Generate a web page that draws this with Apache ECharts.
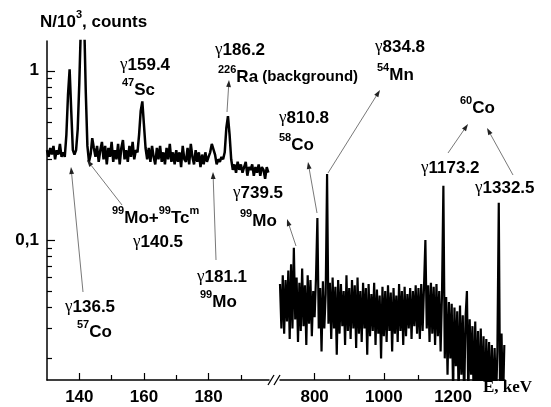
<!DOCTYPE html>
<html>
<head>
<meta charset="utf-8">
<script src="https://cdn.jsdelivr.net/npm/echarts@6/dist/echarts.min.js"></script>
<style>
  html, body { margin: 0; padding: 0; background: #fff; }
  #chart { width: 551px; height: 407px; }
</style>
</head>
<body>
<div id="chart"></div>
<script>
// low-energy part, 130..198.5 keV, step 0.5 keV
const leftStart = 130;
const leftStep = 0.5;
const leftCounts = [
  0.34, 0.31, 0.35, 0.32, 0.36, 0.30, 0.34, 0.32, 0.37, 0.31,
  0.33, 0.31, 0.42, 0.72, 1.02, 0.58, 0.34, 0.32, 0.34, 0.45,
  0.85, 1.90, 3.20, 2.00, 0.75, 0.36, 0.29, 0.32, 0.40, 0.35,
  0.31, 0.36, 0.29, 0.34, 0.38, 0.30, 0.36, 0.28, 0.35, 0.31,
  0.38, 0.29, 0.34, 0.30, 0.37, 0.28, 0.35, 0.39, 0.30, 0.34,
  0.29, 0.36, 0.31, 0.38, 0.30, 0.34, 0.33, 0.42, 0.58, 0.66,
  0.48, 0.35, 0.30, 0.35, 0.29, 0.36, 0.31, 0.28, 0.35, 0.30,
  0.36, 0.29, 0.33, 0.28, 0.35, 0.30, 0.37, 0.29, 0.33, 0.28,
  0.34, 0.29, 0.33, 0.27, 0.36, 0.30, 0.29, 0.35, 0.28, 0.37,
  0.31, 0.28, 0.34, 0.29, 0.33, 0.27, 0.32, 0.28, 0.33, 0.29,
  0.31, 0.33, 0.37, 0.38, 0.32, 0.28, 0.30, 0.29, 0.31, 0.30,
  0.33, 0.46, 0.54, 0.42, 0.30, 0.26, 0.28, 0.25, 0.29, 0.26,
  0.28, 0.25, 0.27, 0.29, 0.24, 0.27, 0.26, 0.28, 0.24, 0.27,
  0.25, 0.28, 0.24, 0.27, 0.26, 0.23, 0.27, 0.25
];

// high-energy part, 700..1348 keV, step 4 keV
const rightStart = 700;
const rightStep = 4;
const rightCounts = [
  0.055, 0.030, 0.062, 0.028, 0.058, 0.033, 0.066, 0.026, 0.072, 0.030,
  0.090, 0.034, 0.060, 0.025, 0.056, 0.029, 0.068, 0.031, 0.054, 0.024,
  0.062, 0.032, 0.058, 0.027, 0.050, 0.035, 0.060, 0.135, 0.030, 0.052,
  0.022, 0.057, 0.030, 0.048, 0.246, 0.032, 0.056, 0.026, 0.060, 0.030,
  0.053, 0.021, 0.058, 0.028, 0.055, 0.031, 0.050, 0.024, 0.062, 0.029,
  0.052, 0.026, 0.058, 0.030, 0.054, 0.023, 0.060, 0.028, 0.050, 0.025,
  0.056, 0.030, 0.052, 0.021, 0.055, 0.027, 0.048, 0.029, 0.056, 0.024,
  0.051, 0.028, 0.047, 0.020, 0.053, 0.027, 0.050, 0.025, 0.054, 0.029,
  0.049, 0.022, 0.052, 0.028, 0.047, 0.025, 0.055, 0.029, 0.050, 0.024,
  0.053, 0.027, 0.048, 0.030, 0.052, 0.026, 0.050, 0.031, 0.054, 0.028,
  0.052, 0.026, 0.055, 0.029, 0.053, 0.100, 0.030, 0.054, 0.025, 0.056,
  0.028, 0.053, 0.024, 0.055, 0.027, 0.050, 0.022, 0.048, 0.209, 0.020,
  0.046, 0.016, 0.043, 0.020, 0.042, 0.013, 0.040, 0.018, 0.038, 0.012,
  0.041, 0.016, 0.036, 0.011, 0.035, 0.050, 0.012, 0.034, 0.016, 0.031,
  0.010, 0.033, 0.012, 0.029, 0.010, 0.030, 0.011, 0.027, 0.010, 0.026,
  0.012, 0.025, 0.010, 0.024, 0.010, 0.023, 0.011, 0.022, 0.166, 0.010,
  0.028, 0.010, 0.024
];

const leftMajorTicks = [140, 160, 180];
const leftMinorTicks = [150, 170, 190];
const rightMajorTicks = [800, 1000, 1200];
const rightMinorTicks = [900, 1100];
const yMajorTicks = [0.1, 1];
const yMinorTicks = [0.02, 0.03, 0.04, 0.05, 0.06, 0.07, 0.08, 0.09,
                     0.2, 0.3, 0.4, 0.5, 0.6, 0.7, 0.8, 0.9];

const leftData = leftCounts.map((v, i) => [leftStart + i * leftStep, v]);
const rightData = rightCounts.map((v, i) => [rightStart + i * rightStep, v]);

const SANS = "'Liberation Sans', Arial, sans-serif";
const SERIF = "'Liberation Serif', 'Times New Roman', serif";
const axisLine = { show: true, onZero: false, lineStyle: { color: '#000', width: 1.5 } };
const tickLine = { color: '#000', width: 1.2 };
const labelFont = { color: '#000', fontSize: 17, fontWeight: 'bold', fontFamily: SANS };

const rich = {
  g: { fontFamily: SERIF, fontSize: 17, fontWeight: 'normal', lineHeight: 26, fill: '#000' },
  b: { fontFamily: SANS, fontSize: 17, fontWeight: 'bold', lineHeight: 26, fill: '#000' },
  m: { fontFamily: SANS, fontSize: 15, fontWeight: 'bold', lineHeight: 26, fill: '#000' },
  s: { fontFamily: SANS, fontSize: 11, fontWeight: 'bold', lineHeight: 12, verticalAlign: 'top', fill: '#000' }
};

function label(x, y, text) {
  return {
    type: 'text', x: x, y: y, z: 10,
    style: { text: text, rich: rich, verticalAlign: 'middle', textVerticalAlign: 'middle' }
  };
}

function arrow(x1, y1, x2, y2) {
  const a = Math.atan2(y2 - y1, x2 - x1);
  const len = 7, w = 2.4;
  const bx = x2 - len * Math.cos(a), by = y2 - len * Math.sin(a);
  return [
    { type: 'line', z: 10, shape: { x1: x1, y1: y1, x2: bx, y2: by },
      style: { stroke: '#555', lineWidth: 0.8 } },
    { type: 'polygon', z: 10,
      shape: { points: [[x2, y2],
        [bx + w * Math.sin(a), by - w * Math.cos(a)],
        [bx - w * Math.sin(a), by + w * Math.cos(a)]] },
      style: { fill: '#222' } }
  ];
}

const chart = echarts.init(document.getElementById('chart'), null, { renderer: 'canvas' });

const plain = v => String(v);

const option = {
  backgroundColor: '#fff',
  animation: false,
  grid: [
    { left: 47, top: 41, width: 222, height: 339 },
    { left: 280, top: 41, width: 225, height: 339 }
  ],
  xAxis: [
    {
      type: 'value', gridIndex: 0, position: 'bottom', min: 130, max: 198.7,
      axisLine: axisLine,
      axisTick: { show: true, inside: true, length: 7, customValues: leftMajorTicks, lineStyle: tickLine },
      axisLabel: Object.assign({ customValues: leftMajorTicks, margin: 9, formatter: plain }, labelFont),
      splitLine: { show: false }
    },
    {
      type: 'value', gridIndex: 0, position: 'bottom', min: 130, max: 198.7,
      axisLine: { show: false, onZero: false },
      axisTick: { show: true, inside: true, length: 5, customValues: leftMinorTicks, lineStyle: tickLine },
      axisLabel: { show: false },
      splitLine: { show: false }
    },
    {
      type: 'value', gridIndex: 1, position: 'bottom', min: 700, max: 1350,
      axisLine: axisLine,
      axisTick: { show: true, inside: true, length: 7, customValues: rightMajorTicks, lineStyle: tickLine },
      axisLabel: Object.assign({ customValues: rightMajorTicks, margin: 9, formatter: plain }, labelFont),
      splitLine: { show: false }
    },
    {
      type: 'value', gridIndex: 1, position: 'bottom', min: 700, max: 1350,
      axisLine: { show: false, onZero: false },
      axisTick: { show: true, inside: true, length: 5, customValues: rightMinorTicks, lineStyle: tickLine },
      axisLabel: { show: false },
      splitLine: { show: false }
    }
  ],
  yAxis: [
    {
      type: 'log', logBase: 10, gridIndex: 0, position: 'left', min: 0.0149, max: 1.5,
      axisLine: axisLine,
      axisTick: { show: true, inside: true, length: 8, customValues: yMajorTicks, lineStyle: tickLine },
      axisLabel: Object.assign({
        customValues: yMajorTicks, margin: 8,
        formatter: v => String(Number(v.toPrecision(3))).replace('.', ',')
      }, labelFont),
      splitLine: { show: false }
    },
    {
      type: 'log', logBase: 10, gridIndex: 0, position: 'left', min: 0.0149, max: 1.5,
      axisLine: { show: false, onZero: false },
      axisTick: { show: true, inside: true, length: 5, customValues: yMinorTicks, lineStyle: tickLine },
      axisLabel: { show: false },
      splitLine: { show: false }
    },
    {
      type: 'log', logBase: 10, gridIndex: 1, min: 0.0149, max: 1.5,
      show: false
    }
  ],
  series: [
    {
      type: 'line', xAxisIndex: 0, yAxisIndex: 0, data: leftData,
      symbol: 'none', clip: true,
      lineStyle: { color: '#000', width: 2.5 }
    },
    {
      type: 'line', xAxisIndex: 2, yAxisIndex: 2, data: rightData,
      symbol: 'none', clip: true,
      lineStyle: { color: '#000', width: 2.2 }
    }
  ],
  graphic: [
    label(40, 22, '{b|N/10}{s|3}{b|, counts}'),
    label(120, 65, '{g|γ}{b|159.4}'),
    label(122, 90, '{s|47}{b|Sc}'),
    label(215, 50, '{g|γ}{b|186.2}'),
    label(218, 77, '{s|226}{b|Ra}{m| (background)}'),
    label(375, 47, '{g|γ}{b|834.8}'),
    label(377, 75, '{s|54}{b|Mn}'),
    label(279, 118, '{g|γ}{b|810.8}'),
    label(279, 145, '{s|58}{b|Co}'),
    label(460, 108, '{s|60}{b|Co}'),
    label(421, 168, '{g|γ}{b|1173.2}'),
    label(475, 188, '{g|γ}{b|1332.5}'),
    label(233, 193, '{g|γ}{b|739.5}'),
    label(240, 221, '{s|99}{b|Mo}'),
    label(112, 218, '{s|99}{b|Mo+}{s|99}{b|Tc}{s|m}'),
    label(133, 242, '{g|γ}{b|140.5}'),
    label(197, 277, '{g|γ}{b|181.1}'),
    label(200, 302, '{s|99}{b|Mo}'),
    label(65, 307, '{g|γ}{b|136.5}'),
    label(77, 332, '{s|57}{b|Co}'),
    {
      type: 'text', x: 483, y: 388, z: 10,
      style: { text: 'E, keV', font: 'bold 17px ' + SERIF, fill: '#000', verticalAlign: 'middle' }
    },
    { type: 'line', shape: { x1: 268, y1: 385, x2: 274, y2: 375 }, style: { stroke: '#000', lineWidth: 1.3 } },
    { type: 'line', shape: { x1: 274, y1: 385, x2: 280, y2: 375 }, style: { stroke: '#000', lineWidth: 1.3 } }
  ]
    .concat(arrow(83, 292, 71, 167))
    .concat(arrow(122, 205, 87, 160))
    .concat(arrow(216, 260, 213, 172))
    .concat(arrow(227, 112, 229, 80))
    .concat(arrow(296, 246, 287, 219))
    .concat(arrow(317, 213, 308, 162))
    .concat(arrow(328, 173, 380, 90))
    .concat(arrow(448, 153, 468, 124))
    .concat(arrow(513, 175, 487, 128))
};

chart.setOption(option);
</script>
</body>
</html>
